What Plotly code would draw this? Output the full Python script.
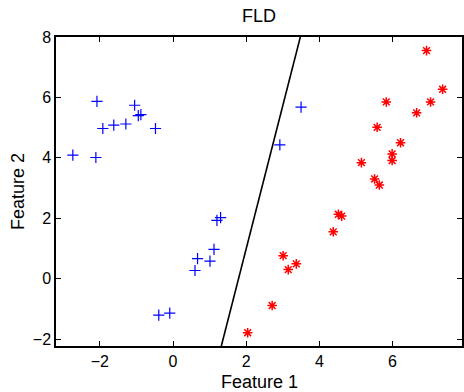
import plotly.graph_objects as go

# Class 1 (blue +)
blue_x = [-2.08, -1.05, -0.95, -0.88, -1.92, -1.62, -1.29, -0.48, -2.74, -2.11,
          1.20, 1.30, 1.12, 0.67, 1.01, 0.60, -0.39, -0.09, 3.50, 2.92]
blue_y = [5.87, 5.74, 5.40, 5.43, 4.97, 5.08, 5.12, 4.97, 4.09, 4.01,
          1.93, 2.02, 0.97, 0.66, 0.58, 0.27, -1.21, -1.14, 5.68, 4.43]

# Class 2 (red *)
red_x = [6.93, 7.37, 5.83, 7.04, 6.66, 5.58, 6.22, 5.99, 5.99, 5.15, 5.51, 5.64,
         4.52, 4.61, 4.38, 3.01, 3.37, 3.15, 2.71, 2.04]
red_y = [7.55, 6.27, 5.85, 5.85, 5.49, 5.01, 4.50, 4.13, 3.91, 3.84, 3.30, 3.10,
         2.13, 2.07, 1.55, 0.76, 0.49, 0.30, -0.89, -1.79]

# FLD decision boundary endpoints
line_x = [1.32, 3.48]
line_y = [-2.23, 8.0]

x_ticks = [-2, 0, 2, 4, 6]
y_ticks = [-2, 0, 2, 4, 6, 8]

FONT = "Liberation Sans, Arial, Helvetica"

fig = go.Figure()
fig.add_trace(go.Scatter(x=line_x, y=line_y, mode="lines",
                         line=dict(color="black", width=1.6), showlegend=False))
fig.add_trace(go.Scatter(x=blue_x, y=blue_y, mode="markers",
                         marker=dict(symbol="cross-thin", size=8, color="blue",
                                     line=dict(color="blue", width=1.2)),
                         showlegend=False))
fig.add_trace(go.Scatter(x=red_x, y=red_y, mode="markers",
                         marker=dict(symbol="asterisk", size=8, color="red",
                                     line=dict(color="red", width=1.5)),
                         showlegend=False))

axis_common = dict(showgrid=False, zeroline=False, showline=True, linecolor="black",
                   linewidth=1.5, mirror="ticks", ticks="inside", ticklen=5,
                   tickcolor="black", tickwidth=1, automargin=False,
                   tickfont=dict(family=FONT, size=16, color="black"))

fig.update_layout(
    width=464, height=392,
    margin=dict(l=56, r=2, t=37, b=46),
    paper_bgcolor="white", plot_bgcolor="white",
    xaxis=dict(range=[-3.2, 7.9], tickvals=x_ticks, **axis_common),
    yaxis=dict(range=[-2.23, 8.0], tickvals=y_ticks, **axis_common),
    annotations=[
        dict(text="FLD", xref="paper", yref="paper", x=0.5, y=1, xanchor="center",
             yanchor="middle", yshift=21, showarrow=False,
             font=dict(family=FONT, size=18, color="black")),
        dict(text="Feature 1", xref="paper", yref="paper", x=0.5, y=0, xanchor="center",
             yanchor="middle", yshift=-36, showarrow=False,
             font=dict(family=FONT, size=18, color="black")),
        dict(text="Feature 2", xref="paper", yref="paper", x=0, y=0.5, xanchor="center",
             yanchor="middle", xshift=-38.5, textangle=-90, showarrow=False,
             font=dict(family=FONT, size=18, color="black")),
    ],
)

fig.write_html("out.html", config={"displayModeBar": False},
               post_script="document.body.style.margin='0';document.body.style.padding='0';")
